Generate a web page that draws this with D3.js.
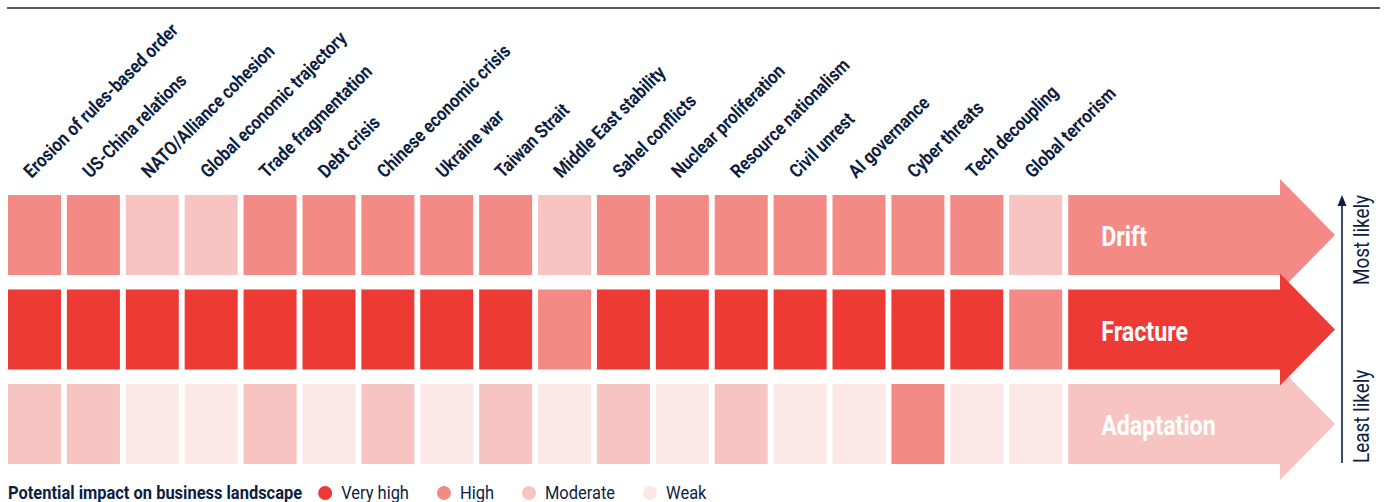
<!DOCTYPE html>
<html>
<head>
<meta charset="utf-8">
<script src="https://cdn.jsdelivr.net/npm/d3@7"></script>
<style>
  html, body { margin: 0; padding: 0; background: #fff; }
  svg { display: block; }
  text { font-family: Roboto, "Noto Sans", sans-serif; }
</style>
</head>
<body>
<svg id="chart" width="1389" height="502"></svg>
<script>
// ---- data ----
const categories = [
  "Erosion of rules-based order", "US-China relations", "NATO/Alliance cohesion",
  "Global economic trajectory", "Trade fragmentation", "Debt crisis",
  "Chinese economic crisis", "Ukraine war", "Taiwan Strait", "Middle East stability",
  "Sahel conflicts", "Nuclear proliferation", "Resource nationalism", "Civil unrest",
  "AI governance", "Cyber threats", "Tech decoupling", "Global terrorism"
];
const scenarios = ["Drift", "Fracture", "Adaptation"];
// impact levels: 4 = Very high, 3 = High, 2 = Moderate, 1 = Weak
const driftImpact      = [3,3,2,2,3,3,3,3,3,2,3,3,3,3,3,3,3,2];
const fractureImpact   = [4,4,4,4,4,4,4,4,4,3,4,4,4,4,4,4,4,3];
const adaptationImpact = [2,2,1,1,2,1,2,1,2,1,2,1,2,1,1,3,1,1];
const scenarioArrowLevel = [3, 4, 2];
const levelNames = ["Very high", "High", "Moderate", "Weak"];
const levelValues = [4, 3, 2, 1];
const legendTitle = "Potential impact on business landscape";
const axisLabels = ["Most likely", "Least likely"];

// ---- styles ----
const NAVY = "#0d1e42";
const color = d3.scaleOrdinal()
  .domain(levelValues)
  .range(["#ee3a34", "#f38a86", "#f8c4c2", "#fce9e7"]);
const COND = 0.86; // horizontal condensation to mimic a condensed face

const svg = d3.select("#chart");

// top rule
svg.append("line")
  .attr("x1", 7).attr("x2", 1380).attr("y1", 8).attr("y2", 8)
  .attr("stroke", "#231f20").attr("stroke-width", 1.6);

// scales
const x = d3.scaleBand().domain(categories).range([8, 1062.2]).paddingInner(0.1).paddingOuter(0);
const y = d3.scaleBand().domain(scenarios).range([195, 464]).paddingInner(0.153).paddingOuter(0);

const rows = [driftImpact, fractureImpact, adaptationImpact];

// column labels
svg.append("g").selectAll("text")
  .data(categories)
  .join("text")
  .attr("transform", d => `translate(${x(d) + x.bandwidth() / 2 - 3},179) rotate(-45) scale(${COND},1)`)
  .attr("font-size", 19)
  .attr("font-weight", 700)
  .attr("fill", NAVY)
  .text(d => d);

// arrows (Fracture drawn last among arrows)
const arrowX0 = x.range()[1] + 6;
const bodyEnd = 1280;
const tipX = 1335;
const headOver = 16;
const arrowOrder = [0, 2, 1];
const gA = svg.append("g");
arrowOrder.forEach(i => {
  const s = scenarios[i];
  const top = y(s), bot = y(s) + y.bandwidth(), mid = (top + bot) / 2;
  const p = d3.path();
  p.moveTo(arrowX0, top);
  p.lineTo(bodyEnd, top);
  p.lineTo(bodyEnd, top - headOver);
  p.lineTo(tipX, mid);
  p.lineTo(bodyEnd, bot + headOver);
  p.lineTo(bodyEnd, bot);
  p.lineTo(arrowX0, bot);
  p.closePath();
  gA.append("path").attr("d", p.toString()).attr("fill", color(scenarioArrowLevel[i]));
});
scenarios.forEach((s, i) => {
  gA.append("text")
    .attr("transform", `translate(${arrowX0 + 33},${y(s) + y.bandwidth() / 2 + 11}) scale(${COND},1)`)
    .attr("font-size", 27)
    .attr("font-weight", 700)
    .attr("fill", "#fff")
    .text(s);
});

// cells
rows.forEach((vals, ri) => {
  svg.append("g").selectAll("rect")
    .data(vals)
    .join("rect")
    .attr("x", (d, ci) => x(categories[ci]))
    .attr("y", y(scenarios[ri]))
    .attr("width", x.bandwidth())
    .attr("height", y.bandwidth())
    .attr("fill", d => color(d));
});

// likelihood axis
const axX = 1342;
svg.append("line")
  .attr("x1", axX).attr("x2", axX)
  .attr("y1", 463).attr("y2", 200)
  .attr("stroke", NAVY).attr("stroke-width", 1.6);
svg.append("path")
  .attr("d", `M${axX},195 L${axX - 4.5},206 L${axX + 4.5},206 Z`)
  .attr("fill", NAVY);
svg.append("text")
  .attr("transform", `translate(1369,195) rotate(-90) scale(${COND},1)`)
  .attr("text-anchor", "end")
  .attr("font-size", 22)
  .attr("fill", NAVY)
  .text(axisLabels[0]);
svg.append("text")
  .attr("transform", `translate(1369,463) rotate(-90) scale(${COND},1)`)
  .attr("text-anchor", "start")
  .attr("font-size", 22)
  .attr("fill", NAVY)
  .text(axisLabels[1]);

// legend
const LC = 0.89;
const lg = svg.append("g");
const ly = 499;
const title = lg.append("text")
  .attr("transform", `translate(8,${ly}) scale(${LC},1)`)
  .attr("font-size", 18.5)
  .attr("font-weight", 700)
  .attr("fill", NAVY)
  .text(legendTitle);
let cx = 8 + title.node().getComputedTextLength() * LC + 23;
levelValues.forEach((v, i) => {
  lg.append("circle").attr("cx", cx).attr("cy", ly - 6).attr("r", 7).attr("fill", color(v));
  const t = lg.append("text")
    .attr("transform", `translate(${cx + 16},${ly}) scale(${LC},1)`)
    .attr("font-size", 18.5)
    .attr("fill", NAVY)
    .text(levelNames[i]);
  cx = cx + 16 + t.node().getComputedTextLength() * LC + 35;
});
</script>
</body>
</html>
